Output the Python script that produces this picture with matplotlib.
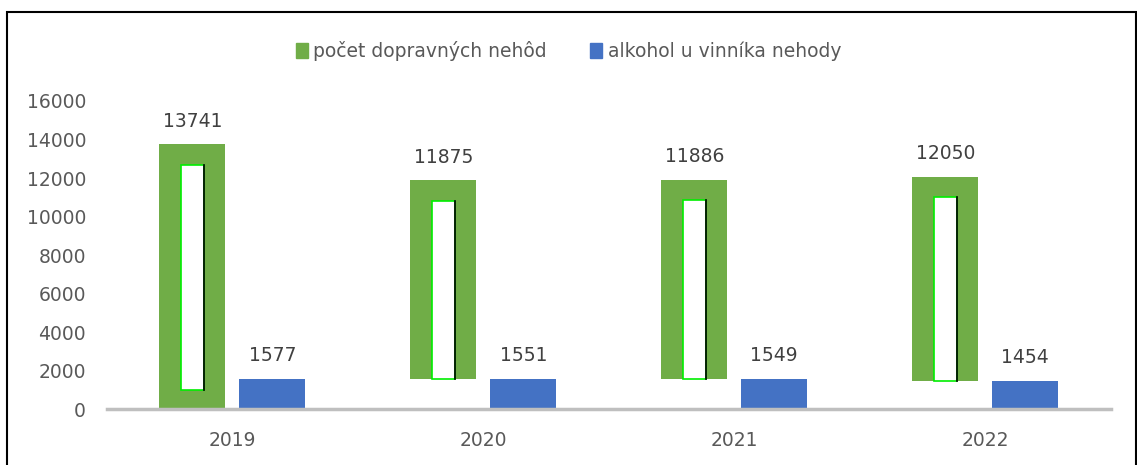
import numpy as np
import matplotlib.pyplot as plt
from matplotlib.patches import Rectangle

roky = ['2019', '2020', '2021', '2022']
nehody = [13741, 11875, 11886, 12050]
alkohol = [1577, 1551, 1549, 1454]

green = '#70ad47'
blue = '#4472c4'
txt = '#595959'

plt.rcParams['font.family'] = ['DejaVu Sans']

fig = plt.figure(figsize=(11.37, 4.65), dpi=100)
ax = fig.add_axes([0.094, 0.1204, 0.883, 0.6624])

x = np.arange(len(roky))
w = 0.263
off = 0.159

# green bars: 2019 from zero, the rest sit on top of the blue value (as in the source)
spodok = [0] + alkohol[1:]
vyska = [n - s for n, s in zip(nehody, spodok)]
ax.bar(x - off, vyska, w, bottom=spodok, color=green, zorder=2)

# white hollow inside the green bars
wi = 0.092
inset = 1050
for i in range(len(x)):
    dole = spodok[i] + (1000 if i == 0 else 0)
    hore = nehody[i] - inset
    ax.bar(x[i] - off, hore - dole, wi, bottom=dole, color='white',
           edgecolor='#00ee00', linewidth=1.2, zorder=3)
    ax.plot([x[i] - off + wi / 2] * 2, [dole, hore], color='black', lw=1.2, zorder=4)

ax.bar(x + off, alkohol, w, color=blue, zorder=2)

fs = 13.5
for i in range(len(x)):
    ax.annotate(str(nehody[i]), (x[i] - off, nehody[i]), xytext=(0, 10),
                textcoords='offset points', ha='center', va='bottom', fontsize=fs, color='#404040')
    ax.annotate(str(alkohol[i]), (x[i] + off, alkohol[i]), xytext=(0, 10),
                textcoords='offset points', ha='center', va='bottom', fontsize=fs, color='#404040')

ax.set_xlim(-0.5, 3.5)
ax.set_ylim(0, 16000)
ax.set_yticks(range(0, 16001, 2000))
ax.set_xticks(x)
ax.set_xticklabels(roky)
ax.tick_params(length=0, labelsize=fs, labelcolor=txt)
ax.tick_params(axis='x', pad=16)
ax.tick_params(axis='y', pad=15)
for s in ['top', 'right', 'left']:
    ax.spines[s].set_visible(False)
ax.spines['bottom'].set_color('#bfbfbf')
ax.spines['bottom'].set_linewidth(2.5)

# legend
fig.legend(handles=[Rectangle((0, 0), 1, 1, color=green), Rectangle((0, 0), 1, 1, color=blue)],
           labels=['počet dopravných nehôd', 'alkohol u vinníka nehody'],
           loc='center', bbox_to_anchor=(0.5, 0.89), ncol=2, frameon=False,
           fontsize=fs, handlelength=0.65, handleheight=0.9, handletextpad=0.3,
           columnspacing=2.3, labelcolor=txt)

# outer frame
fig.add_artist(Rectangle((0.0062, -0.05), 0.9925, 1.05 - 12 / 465, transform=fig.transFigure,
                         fill=False, edgecolor='black', linewidth=1.5))

fig.savefig('out.png', dpi=100)
